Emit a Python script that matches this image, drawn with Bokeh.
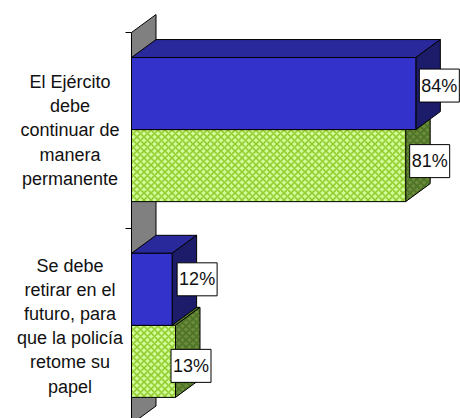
from bokeh.plotting import figure
from bokeh.models import ColumnDataSource, LinearAxis, FixedTicker
from bokeh.core.properties import value
from bokeh.embed import file_html
from bokeh.resources import INLINE

categories = ["El Ejército\ndebe\ncontinuar de\nmanera\npermanente",
              "Se debe\nretirar en el\nfuturo, para\nque la policía\nretome su\npapel"]
series_blue = [84, 12]
series_green = [81, 13]

W, H = 460, 418
LEFT = 131            # px from figure edge to the value-axis zero
PX_X = 3.385          # px per percentage point
PX_Y = 195.75         # px per category band
TOP = 32              # px from figure top to first band edge
DX = 24.5 / PX_X      # 3D depth in data units
DY = 18 / PX_Y
GAP = 0.128
BAR = 0.368

p = figure(width=W, height=H, output_backend="svg", toolbar_location=None,
           x_range=(0, (W - LEFT) / PX_X),
           y_range=((H - TOP) / PX_Y, -TOP / PX_Y),
           min_border_left=LEFT, min_border_right=0, min_border_top=0, min_border_bottom=0,
           x_axis_location=None, y_axis_location=None,
           background_fill_color=None, border_fill_color="white", outline_line_color=None)
p.grid.visible = False

axis = LinearAxis(ticker=FixedTicker(ticks=[0, 1, 2]), bounds=(0, 2),
                  major_label_overrides={0: "", 1: "", 2: ""},
                  major_tick_in=0, major_tick_out=6,
                  major_tick_line_color="black", axis_line_color="black", major_label_standoff=0)
p.add_layout(axis, "left")

LINE = dict(line_color="black", line_width=1)
# back wall
p.patch([0, DX, DX, 0], [0, -DY, 2 - DY, 2], fill_color="#808080", **LINE)


def box(x, y0, y1, front, top, side, **hatch):
    p.patch([0, DX, x + DX, x], [y0, y0 - DY, y0 - DY, y0], fill_color=top, **LINE, **hatch)
    p.patch([x, x + DX, x + DX, x], [y0, y0 - DY, y1 - DY, y1], fill_color=side, **LINE, **hatch)
    hf = {k: v for k, v in hatch.items()}
    if hatch:
        hf["hatch_color"] = "#99cc33"
        front_fill = "#ccff99"
    else:
        front_fill = front
    p.quad(left=[0], right=[x], top=[y0], bottom=[y1], fill_color=front_fill, **LINE, **hf)


HATCH = dict(hatch_pattern="diagonal_cross", hatch_color="#4d7326", hatch_scale=7, hatch_weight=1.6)
for i in range(2):
    green_top = i + GAP + BAR
    box(series_green[i], green_top, green_top + BAR, None, "#6b8a3a", "#6b8a3a", **HATCH)
    box(series_blue[i], i + GAP, i + GAP + BAR, "#3333cc", "#29299c", "#1c1c6b")

# data labels
lab_x = [series_blue[0], series_green[0], series_blue[1], series_green[1]]
lab_y = [GAP + BAR / 2, GAP + BAR * 1.5, 1 + GAP + BAR / 2, 1 + GAP + BAR * 1.5]
off_x = [23.5, 24, 25, 15.5]
off_y = [-8, -4.5, -10, 4.5]
src = ColumnDataSource(dict(
    x=[a + b / PX_X for a, b in zip(lab_x, off_x)],
    y=[a + b / PX_Y for a, b in zip(lab_y, off_y)],
    t=[f"{v}%" for v in lab_x]))
p.rect("x", "y", width=40 / PX_X, height=33 / PX_Y, source=src, fill_color="white",
       line_color="black", line_width=1)
p.text("x", "y", text="t", source=src, text_align="center", text_baseline="middle",
       text_font=value("Liberation Sans"), text_font_size="18px", text_color="#111111")

# category labels
p.text(x=[-61.5 / PX_X] * 2, y=[0.5, 1.5], text=categories, text_align="center", text_baseline="middle",
       text_font=value("Liberation Sans"), text_font_size="18px", text_color="#111111",
       text_line_height=1.21, level="annotation")

open("out.html", "w").write(file_html(p, INLINE))
